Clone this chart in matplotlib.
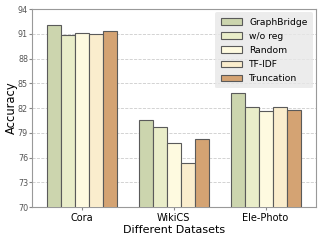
import numpy as np
import matplotlib.pyplot as plt

datasets = ["Cora", "WikiCS", "Ele-Photo"]
methods = ["GraphBridge", "w/o reg", "Random", "TF-IDF", "Truncation"]
graphbridge = [92.1, 80.6, 83.8]
wo_reg = [90.9, 79.7, 82.1]
random_sel = [91.1, 77.8, 81.6]
tfidf = [91.0, 75.3, 82.1]
truncation = [91.3, 78.2, 81.8]
colors = ["#ccd5ae", "#e9edc9", "#fefae0", "#faedcd", "#d4a373"]

series = [graphbridge, wo_reg, random_sel, tfidf, truncation]

fig, ax = plt.subplots(figsize=(3.2, 2.4), dpi=100)
x = np.arange(len(datasets))
w = 0.152
for i, (vals, name, c) in enumerate(zip(series, methods, colors)):
    ax.bar(x + (i - 2) * w, vals, w, color=c, edgecolor="#5a5a5a",
           linewidth=0.8, label=name, zorder=3)

ax.set_ylim(70, 94)
ax.set_yticks(np.arange(70, 95, 3))
ax.set_xlim(-0.54, 2.55)
ax.set_xticks(x)
ax.set_xticklabels(datasets)
ax.grid(axis="y", linestyle="--", color="#cccccc", linewidth=0.6, zorder=0)
ax.tick_params(axis="y", labelsize=5.8, labelcolor="#555555", length=2,
               color="#888888", pad=0.8)
ax.tick_params(axis="x", labelsize=7, length=2.5, color="#888888", pad=2)
for s in ax.spines.values():
    s.set_color("#999999")
ax.set_ylabel("Accuracy", fontsize=8.3)
ax.yaxis.set_label_coords(-0.048, 0.5)
ax.set_xlabel("Different Datasets", fontsize=8, labelpad=1)
leg = ax.legend(fontsize=6.6, loc="upper right", frameon=True,
                handlelength=2.3, handleheight=0.7, borderpad=0.6,
                labelspacing=0.55, borderaxespad=0.35)
leg.get_frame().set_facecolor("#e8e8e8")
leg.get_frame().set_edgecolor("none")

fig.subplots_adjust(left=0.1, right=0.988, top=0.962, bottom=0.137)
plt.savefig("out.png", dpi=100)
